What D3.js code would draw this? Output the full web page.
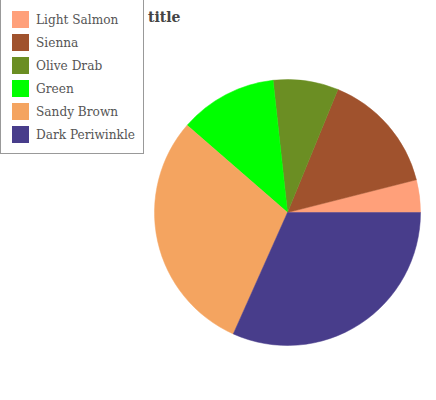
<!DOCTYPE html>
<html>
<head>
<meta charset="utf-8">
<script src="https://cdn.jsdelivr.net/npm/d3@7"></script>
<style>
  body { margin: 0; background: #fff; }
  svg { display: block; }
</style>
</head>
<body>
<svg id="pie" width="436" height="400"></svg>
<script>
// values
var categories = ["Light Salmon", "Sienna", "Olive Drab", "Green", "Sandy Brown", "Dark Periwinkle"];
var values = [4, 15, 8, 12, 30, 32];
var colors = ["#FFA07A", "#A0522D", "#6B8E23", "#00FF00", "#F4A460", "#483D8B"];

drawPie();

function drawPie(){
  var svg = d3.select("#pie"),
  cx = 287.5, cy = 212.5, radius = 133;

  var data = categories.map(function(c, i) { return {name: c, value: values[i]}; });

  var color = d3.scaleOrdinal()
  .domain(categories)
  .range(colors);

  // starts at 3 o'clock and runs counter-clockwise
  var pie = d3.pie()
  .sort(null)
  .value(function(d) { return d.value; })
  .startAngle(Math.PI / 2)
  .endAngle(Math.PI / 2 - 2 * Math.PI);

  var arc = d3.arc()
  .innerRadius(0)
  .outerRadius(radius);

  var g = svg.append("g").attr("transform", "translate(" + cx + "," + cy + ")");

  g.selectAll("path")
  .data(pie(data))
  .enter().append("path")
  .attr("d", arc)
  .attr("fill", function(d) { return color(d.data.name); })
  .attr("stroke", function(d) { return color(d.data.name); })
  .attr("stroke-width", 0.5);

  svg.append("text")
  .attr("x", 148)
  .attr("y", 22)
  .attr("font-family", "DejaVu Serif")
  .attr("font-weight", "bold")
  .attr("font-size", 14)
  .attr("fill", "#444")
  .text("title");

  var legend = svg.append("g");

  legend.append("rect")
  .attr("x", 0.5)
  .attr("y", -2)
  .attr("width", 143)
  .attr("height", 155.5)
  .attr("fill", "#fff")
  .attr("stroke", "#999");

  var rows = legend.selectAll("g")
  .data(categories)
  .enter().append("g")
  .attr("transform", function(d, i) { return "translate(12," + (11 + i * 23) + ")"; });

  rows.append("rect")
  .attr("width", 17)
  .attr("height", 17)
  .attr("fill", function(d) { return color(d); });

  rows.append("text")
  .attr("x", 24)
  .attr("y", 8.5)
  .attr("dy", "0.36em")
  .attr("font-family", "DejaVu Serif")
  .attr("font-stretch", "condensed")
  .attr("font-size", 13.5)
  .attr("fill", "#555")
  .text(function(d) { return d; });
}
</script>
</body>
</html>
